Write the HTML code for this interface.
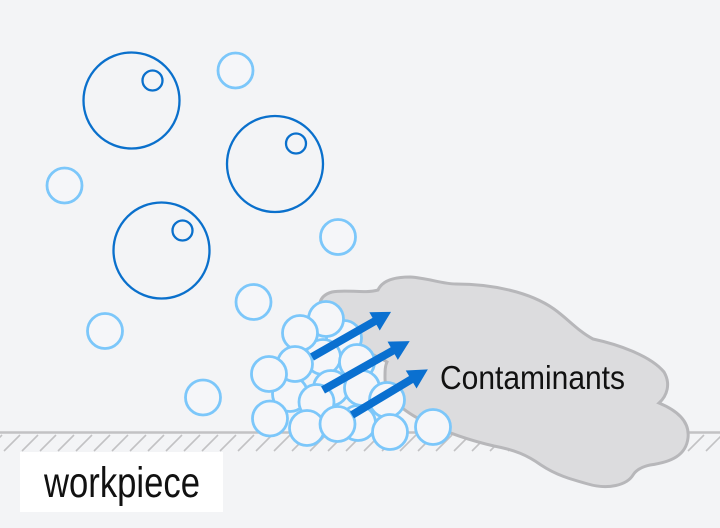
<!DOCTYPE html>
<html><head><meta charset="utf-8"><style>
html,body{margin:0;padding:0;background:#f3f4f6;}
svg{display:block;}
</style></head><body>
<svg width="720" height="528" viewBox="0 0 720 528" xmlns="http://www.w3.org/2000/svg">
<rect width="720" height="528" fill="#f3f4f6"/>
<!-- ground -->
<g stroke="#c2c2c4" stroke-width="1.6">
<line x1="-14" y1="451" x2="2" y2="435"/><line x1="4" y1="451" x2="20" y2="435"/><line x1="22" y1="451" x2="38" y2="435"/><line x1="40" y1="451" x2="56" y2="435"/><line x1="58" y1="451" x2="74" y2="435"/><line x1="76" y1="451" x2="92" y2="435"/><line x1="94" y1="451" x2="110" y2="435"/><line x1="112" y1="451" x2="128" y2="435"/><line x1="130" y1="451" x2="146" y2="435"/><line x1="148" y1="451" x2="164" y2="435"/><line x1="166" y1="451" x2="182" y2="435"/><line x1="184" y1="451" x2="200" y2="435"/><line x1="202" y1="451" x2="218" y2="435"/><line x1="220" y1="451" x2="236" y2="435"/><line x1="238" y1="451" x2="254" y2="435"/><line x1="256" y1="451" x2="272" y2="435"/><line x1="274" y1="451" x2="290" y2="435"/><line x1="292" y1="451" x2="308" y2="435"/><line x1="310" y1="451" x2="326" y2="435"/><line x1="328" y1="451" x2="344" y2="435"/><line x1="346" y1="451" x2="362" y2="435"/><line x1="364" y1="451" x2="380" y2="435"/><line x1="382" y1="451" x2="398" y2="435"/><line x1="400" y1="451" x2="416" y2="435"/><line x1="418" y1="451" x2="434" y2="435"/><line x1="436" y1="451" x2="452" y2="435"/><line x1="454" y1="451" x2="470" y2="435"/><line x1="472" y1="451" x2="488" y2="435"/><line x1="490" y1="451" x2="506" y2="435"/><line x1="508" y1="451" x2="524" y2="435"/><line x1="526" y1="451" x2="542" y2="435"/><line x1="544" y1="451" x2="560" y2="435"/><line x1="562" y1="451" x2="578" y2="435"/><line x1="580" y1="451" x2="596" y2="435"/><line x1="598" y1="451" x2="614" y2="435"/><line x1="616" y1="451" x2="632" y2="435"/><line x1="634" y1="451" x2="650" y2="435"/><line x1="652" y1="451" x2="668" y2="435"/><line x1="670" y1="451" x2="686" y2="435"/><line x1="688" y1="451" x2="704" y2="435"/><line x1="706" y1="451" x2="722" y2="435"/>
</g>
<line x1="0" y1="432.5" x2="720" y2="432.5" stroke="#c2c2c4" stroke-width="2.5"/>
<!-- cloud -->
<path d="M 387,362 C 372,352 342,346 326,322 C 316,307 318,296 332,292 C 346,289 364,294 378,290 C 382,281 394,277 410,277 C 428,278 442,284 456,284 C 492,284 530,292 554,309 C 568,319 578,331 593,339 C 616,344 650,355 664,372 C 671,384 667,396 659,403 C 676,410 690,421 688,438 C 686,455 672,462 650,465 C 641,467 636,470 633,475 C 627,485 608,490 588,484 C 570,479 556,475 541,465 C 527,455 515,450 494,446 C 468,440 446,432 427,423 C 402,411 385,396 385,378 C 385,371 385,366 387,362 Z" fill="#dcdcde" stroke="#b7b7ba" stroke-width="3"/>
<!-- big bubbles -->
<g fill="none" stroke="#0a70cc" stroke-width="2.3">
<circle cx="131.5" cy="100.5" r="48"/><circle cx="152.5" cy="80.5" r="10"/>
<circle cx="275" cy="164" r="48"/><circle cx="296" cy="143.5" r="10"/>
<circle cx="161.5" cy="250.5" r="48"/><circle cx="182.5" cy="230.5" r="10"/>
</g>
<!-- light bubbles -->
<g fill="#f5f6f9" stroke="#7cc7fa" stroke-width="2.8">
<circle cx="235.5" cy="70.5" r="17.5"/>
<circle cx="64.5" cy="185.5" r="17.5"/>
<circle cx="338" cy="237" r="17.5"/>
<circle cx="253.5" cy="302" r="17.5"/>
<circle cx="105" cy="331" r="17.5"/>
<circle cx="203" cy="397.5" r="17.5"/>
<circle cx="344" cy="338" r="17.5"/>
<circle cx="323" cy="357" r="17.5"/>
<circle cx="357" cy="362" r="17.5"/>
<circle cx="290" cy="394" r="17.5"/>
<circle cx="331" cy="388" r="17.5"/>
<circle cx="362" cy="388" r="17.5"/>
<circle cx="358" cy="423" r="17.5"/>
<circle cx="387" cy="400" r="17.5"/>
<circle cx="326" cy="319" r="17.5"/>
<circle cx="300" cy="333" r="17.5"/>
<circle cx="295" cy="364" r="17.5"/>
<circle cx="269" cy="374" r="17.5"/>
<circle cx="316.5" cy="402" r="17.5"/>
<circle cx="270" cy="418.5" r="17.5"/>
<circle cx="307" cy="428" r="17.5"/>
<circle cx="337.5" cy="424" r="17.5"/>
<circle cx="390" cy="432" r="17.5"/>
<circle cx="433" cy="427" r="17.5"/>
</g>
<!-- arrows -->
<g fill="#0a70d0">
<g transform="translate(312,357) rotate(-29.7)"><rect x="0" y="-4" width="74" height="8"/><polygon points="72,-10.5 91,0 72,10.5"/></g>
<g transform="translate(323,390) rotate(-29.4)"><rect x="0" y="-4" width="82" height="8"/><polygon points="80,-10.5 99.5,0 80,10.5"/></g>
<g transform="translate(352,415) rotate(-31)"><rect x="0" y="-4" width="71" height="8"/><polygon points="69,-10.5 88.5,0 69,10.5"/></g>
</g>
<text x="440" y="389" font-family="Liberation Sans, sans-serif" font-size="33" fill="#111" textLength="185" lengthAdjust="spacingAndGlyphs">Contaminants</text>
<rect x="20" y="452" width="203" height="60" fill="#ffffff"/>
<text x="44" y="497" font-family="Liberation Sans, sans-serif" font-size="43" fill="#111" textLength="156" lengthAdjust="spacingAndGlyphs">workpiece</text>
</svg>
</body></html>
